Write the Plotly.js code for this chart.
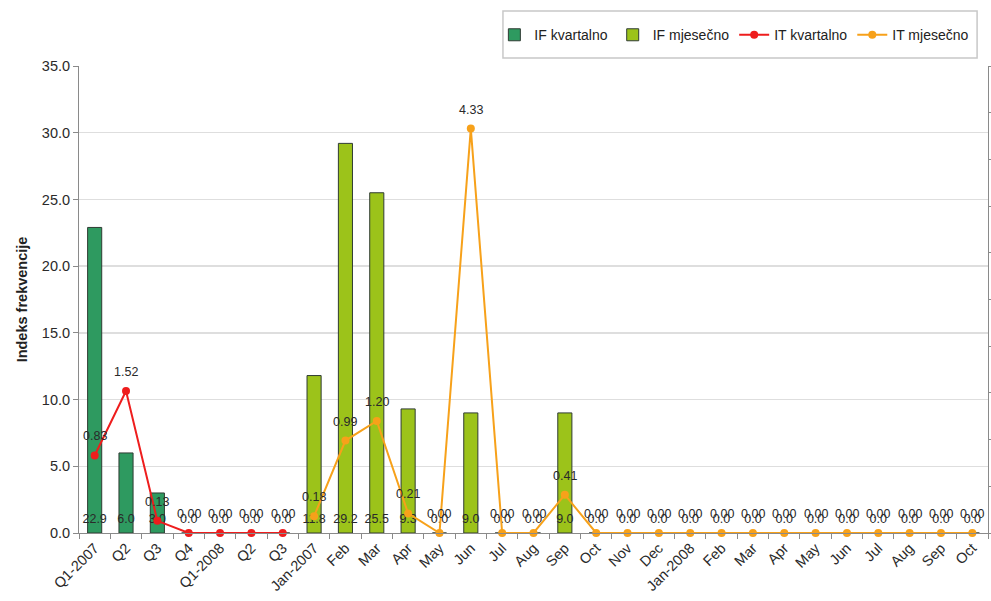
<!DOCTYPE html>
<html>
<head>
<meta charset="utf-8">
<script src="https://cdn.plot.ly/plotly-3.0.1.min.js"></script>
<style>html,body{margin:0;padding:0;background:#fff;}#chart{width:991px;height:601px;}</style>
</head>
<body>
<div id="chart"></div>
<script>
// Category tick labels (quarterly section, then monthly section)
var quarterLabels = ["Q1-2007","Q2","Q3","Q4","Q1-2008","Q2","Q3"];
var monthLabels = ["Jan-2007","Feb","Mar","Apr","May","Jun","Jul","Aug","Sep","Oct","Nov","Dec",
                   "Jan-2008","Feb","Mar","Apr","May","Jun","Jul","Aug","Sep","Oct"];
// IF = Indeks frekvencije (bars, left axis)
var ifKvartalno = [22.9, 6.0, 3.0, 0.0, 0.0, 0.0, 0.0];
var ifMjesecno  = [11.8, 29.2, 25.5, 9.3, 0.0, 9.0, 0.0, 0.0, 9.0, 0.0, 0.0, 0.0,
                   0.0, 0.0, 0.0, 0.0, 0.0, 0.0, 0.0, 0.0, 0.0, 0.0];
// IT (lines, right axis)
var itKvartalno = [0.83, 1.52, 0.13, 0.00, 0.00, 0.00, 0.00];
var itMjesecno  = [0.18, 0.99, 1.20, 0.21, 0.00, 4.33, 0.00, 0.00, 0.41, 0.00, 0.00, 0.00,
                   0.00, 0.00, 0.00, 0.00, 0.00, 0.00, 0.00, 0.00, 0.00, 0.00];

var allLabels = quarterLabels.concat(monthLabels);
var xAll = allLabels.map(function(_, i){ return i; });
var xQ = quarterLabels.map(function(_, i){ return i; });
var xM = monthLabels.map(function(_, i){ return i + quarterLabels.length; });

var FONT = "Liberation Sans, Arial, sans-serif";
var TXT = "#2a2a2a";
var LBL = 12.5;

var traces = [
  {type:"bar", name:"IF kvartalno", x:xQ, y:ifKvartalno, width:0.45,
   marker:{color:"#2e9a60", line:{color:"#2f3b33", width:1}}, hoverinfo:"y"},
  {type:"bar", name:"IF mjesečno", x:xM, y:ifMjesecno, width:0.45,
   marker:{color:"#9cc31a", line:{color:"#2f3b33", width:1}}, hoverinfo:"y"},
  {type:"scatter", mode:"lines+markers", name:"IT kvartalno", x:xQ, y:itKvartalno, yaxis:"y2",
   line:{color:"#ee1d1d", width:2}, marker:{color:"#ee1d1d", size:8}, cliponaxis:false},
  {type:"scatter", mode:"lines+markers", name:"IT mjesečno", x:xM, y:itMjesecno, yaxis:"y2",
   line:{color:"#f7a11a", width:2}, marker:{color:"#f7a11a", size:8}, cliponaxis:false},
  // bar value labels shown at the bar base
  {type:"scatter", mode:"text", showlegend:false, hoverinfo:"skip",
   x:xQ.concat(xM), y:ifKvartalno.concat(ifMjesecno).map(function(){return 0.95;}),
   text:ifKvartalno.concat(ifMjesecno).map(function(v){return v.toFixed(1);}),
   textfont:{family:FONT, size:LBL, color:TXT}, cliponaxis:false}
];

// line value labels above each point
var annotations = [];
function addLabels(xs, vals){
  xs.forEach(function(x, i){
    annotations.push({x:x, y:vals[i], xref:"x", yref:"y2", text:vals[i].toFixed(2),
      showarrow:false, yshift:19, yanchor:"middle",
      font:{family:FONT, size:LBL, color:TXT}});
  });
}
addLabels(xQ, itKvartalno);
addLabels(xM, itMjesecno);

var layout = {
  width:991, height:601,
  margin:{l:79, r:3, t:66, b:68},
  paper_bgcolor:"#fff", plot_bgcolor:"#fff",
  font:{family:FONT, size:14, color:TXT},
  barmode:"overlay",
  showlegend:true,
  legend:{orientation:"h", x:0.985, xanchor:"right", y:1.066, yanchor:"middle",
          borderwidth:0, bgcolor:"rgba(0,0,0,0)", itemwidth:30,
          font:{family:FONT, size:14, color:"#222"}, traceorder:"normal"},
  shapes:[{type:"rect", xref:"paper", yref:"paper", x0:0.4664, x1:0.988, y0:1.017, y1:1.118,
           line:{color:"#c8c8c8", width:1.5}, fillcolor:"rgba(0,0,0,0)", layer:"below"}],
  annotations:annotations,
  xaxis:{range:[-0.5, allLabels.length - 0.5], tickvals:xAll, ticktext:allLabels,
         tickangle:-45, ticks:"", showgrid:false, zeroline:false,
         showline:true, linecolor:"#8a8a8a", linewidth:1,
         tickfont:{family:FONT, size:14.5, color:TXT},
         minor:{tick0:-0.5, dtick:1, ticks:"outside", ticklen:5, tickcolor:"#8a8a8a", showgrid:false}},
  yaxis:{range:[0,35], dtick:5, tickformat:".1f", ticks:"outside", ticklen:5, tickcolor:"#8a8a8a",
         showgrid:true, gridcolor:"#dedede", gridwidth:1.5, zeroline:false,
         showline:true, linecolor:"#8a8a8a", linewidth:1,
         tickfont:{family:FONT, size:14.5, color:TXT},
         title:{text:"<b>Indeks frekvencije</b>", font:{family:FONT, size:14.5, color:"#222"}, standoff:10}},
  yaxis2:{overlaying:"y", side:"right", range:[0,5], dtick:0.5, showticklabels:false,
          ticks:"outside", ticklen:4, tickcolor:"#8a8a8a", showgrid:false, zeroline:false,
          showline:true, linecolor:"#8a8a8a", linewidth:1}
};

Plotly.newPlot("chart", traces, layout, {displayModeBar:false, staticPlot:true});
</script>
</body>
</html>
